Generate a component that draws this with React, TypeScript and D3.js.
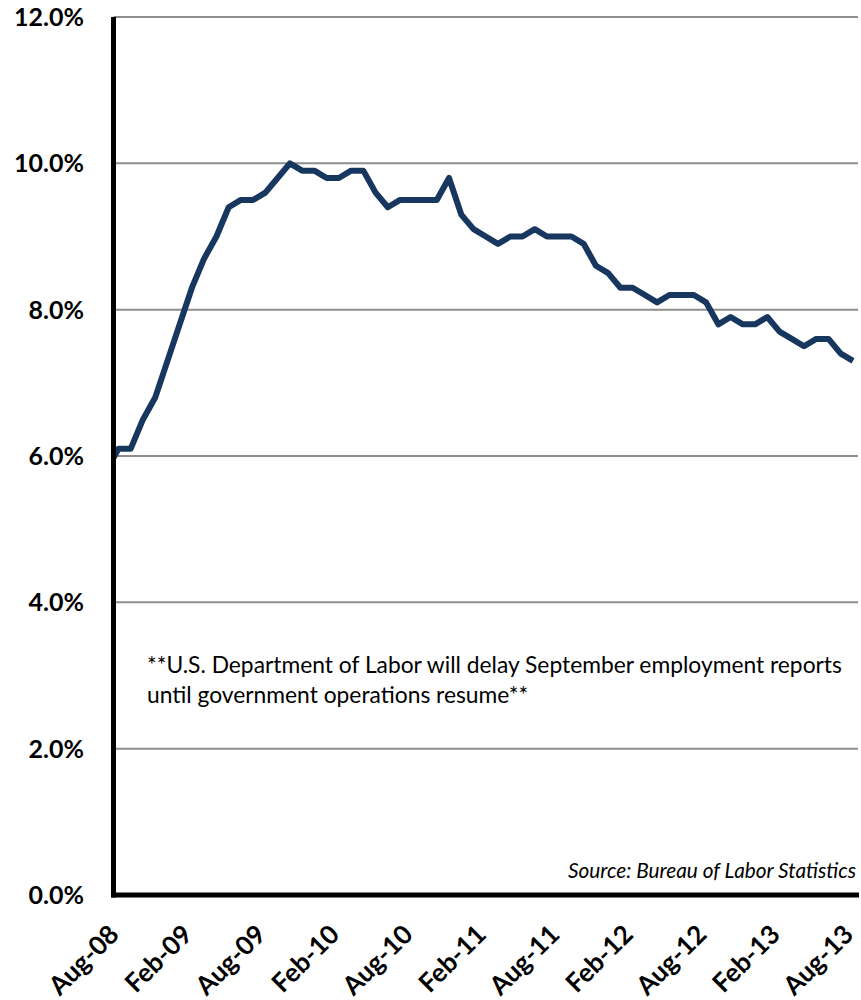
import { useEffect, useRef } from "react";
import * as d3 from "d3";

// Monthly unemployment rate (%), Jul-08 .. Aug-13
const months = [
  "Jul-08", "Aug-08", "Sep-08", "Oct-08", "Nov-08", "Dec-08",
  "Jan-09", "Feb-09", "Mar-09", "Apr-09", "May-09", "Jun-09", "Jul-09", "Aug-09", "Sep-09", "Oct-09", "Nov-09", "Dec-09",
  "Jan-10", "Feb-10", "Mar-10", "Apr-10", "May-10", "Jun-10", "Jul-10", "Aug-10", "Sep-10", "Oct-10", "Nov-10", "Dec-10",
  "Jan-11", "Feb-11", "Mar-11", "Apr-11", "May-11", "Jun-11", "Jul-11", "Aug-11", "Sep-11", "Oct-11", "Nov-11", "Dec-11",
  "Jan-12", "Feb-12", "Mar-12", "Apr-12", "May-12", "Jun-12", "Jul-12", "Aug-12", "Sep-12", "Oct-12", "Nov-12", "Dec-12",
  "Jan-13", "Feb-13", "Mar-13", "Apr-13", "May-13", "Jun-13", "Jul-13", "Aug-13",
];
const rates = [
  5.8, 6.1, 6.1, 6.5, 6.8, 7.3,
  7.8, 8.3, 8.7, 9.0, 9.4, 9.5, 9.5, 9.6, 9.8, 10.0, 9.9, 9.9,
  9.8, 9.8, 9.9, 9.9, 9.6, 9.4, 9.5, 9.5, 9.5, 9.5, 9.8, 9.3,
  9.1, 9.0, 8.9, 9.0, 9.0, 9.1, 9.0, 9.0, 9.0, 8.9, 8.6, 8.5,
  8.3, 8.3, 8.2, 8.1, 8.2, 8.2, 8.2, 8.1, 7.8, 7.9, 7.8, 7.8,
  7.9, 7.7, 7.6, 7.5, 7.6, 7.6, 7.4, 7.3,
];
const xTickLabels = ["Aug-08", "Feb-09", "Aug-09", "Feb-10", "Aug-10", "Feb-11", "Aug-11", "Feb-12", "Aug-12", "Feb-13", "Aug-13"];
const yTicks = [0, 2, 4, 6, 8, 10, 12];
const noteLines = [
  "**U.S. Department of Labor will delay September employment reports",
  "until government operations resume**",
];
const sourceText = "Source: Bureau of Labor Statistics";

export default function App() {
  const svgRef = useRef<SVGSVGElement>(null);

  useEffect(() => {
    if (!svgRef.current) return;
    const svg = d3.select(svgRef.current);
    svg.selectAll("*").remove();

    const left = 113.5;
    const right = 858;
    const top = 17;
    const bottom = 895;

    const x = d3.scaleLinear()
      .domain([months.indexOf("Aug-08"), months.indexOf("Aug-13")])
      .range([118.5, 853]);
    const y = d3.scaleLinear().domain([0, 12]).range([bottom, top]);

    // grid lines
    svg.append("g")
      .selectAll("line")
      .data(yTicks.filter(d => d > 0))
      .enter()
      .append("line")
      .attr("x1", left)
      .attr("x2", right)
      .attr("y1", d => y(d))
      .attr("y2", d => y(d))
      .attr("stroke", "#8e8e8e")
      .attr("stroke-width", 2);

    // y tick labels
    svg.append("g")
      .selectAll("text")
      .data(yTicks)
      .enter()
      .append("text")
      .attr("x", 84)
      .attr("y", d => y(d))
      .attr("dy", "0.36em")
      .attr("text-anchor", "end")
      .attr("font-family", "Lato")
      .attr("font-weight", "bold")
      .attr("font-size", 25)
      .attr("fill", "#000")
      .text(d => d3.format(".1%")(d / 100));

    // x tick labels (rotated)
    svg.append("g")
      .selectAll("text")
      .data(xTickLabels)
      .enter()
      .append("text")
      .attr("transform", d => `translate(${x(months.indexOf(d)) + 2},${bottom + 41}) rotate(-45)`)
      .attr("text-anchor", "end")
      .attr("font-family", "Lato")
      .attr("font-weight", "bold")
      .attr("font-size", 26)
      .attr("fill", "#000")
      .text(d => d);

    // clip for the series
    svg.append("defs")
      .append("clipPath")
      .attr("id", "plot-clip")
      .append("rect")
      .attr("x", left)
      .attr("y", 0)
      .attr("width", 861 - left)
      .attr("height", bottom);

    const line = d3.line<number>()
      .x((_, i) => x(i))
      .y(d => y(d));

    svg.append("path")
      .datum(rates)
      .attr("clip-path", "url(#plot-clip)")
      .attr("fill", "none")
      .attr("stroke", "#17375e")
      .attr("stroke-width", 6)
      .attr("stroke-linejoin", "round")
      .attr("d", line);

    // axes lines
    svg.append("line")
      .attr("x1", left)
      .attr("x2", left)
      .attr("y1", top)
      .attr("y2", bottom + 2.5)
      .attr("stroke", "#000")
      .attr("stroke-width", 5);
    svg.append("line")
      .attr("x1", left - 2.5)
      .attr("x2", right + 1)
      .attr("y1", bottom)
      .attr("y2", bottom)
      .attr("stroke", "#000")
      .attr("stroke-width", 5);

    // annotation
    svg.append("g")
      .selectAll("text")
      .data(noteLines)
      .enter()
      .append("text")
      .attr("x", 147)
      .attr("y", (_, i) => 673 + i * 30)
      .attr("font-family", "Lato")
      .attr("font-size", 22.8)
      .attr("fill", "#000")
      .text(d => d);

    svg.append("text")
      .attr("x", 856)
      .attr("y", 878)
      .attr("text-anchor", "end")
      .attr("font-family", "Lato")
      .attr("font-style", "italic")
      .attr("font-size", 20.8)
      .attr("fill", "#000")
      .text(sourceText);
  }, []);

  return (
    <svg
      ref={svgRef}
      width={861}
      height={1000}
      style={{ position: "absolute", left: 0, top: 0, background: "#fff" }}
    />
  );
}
